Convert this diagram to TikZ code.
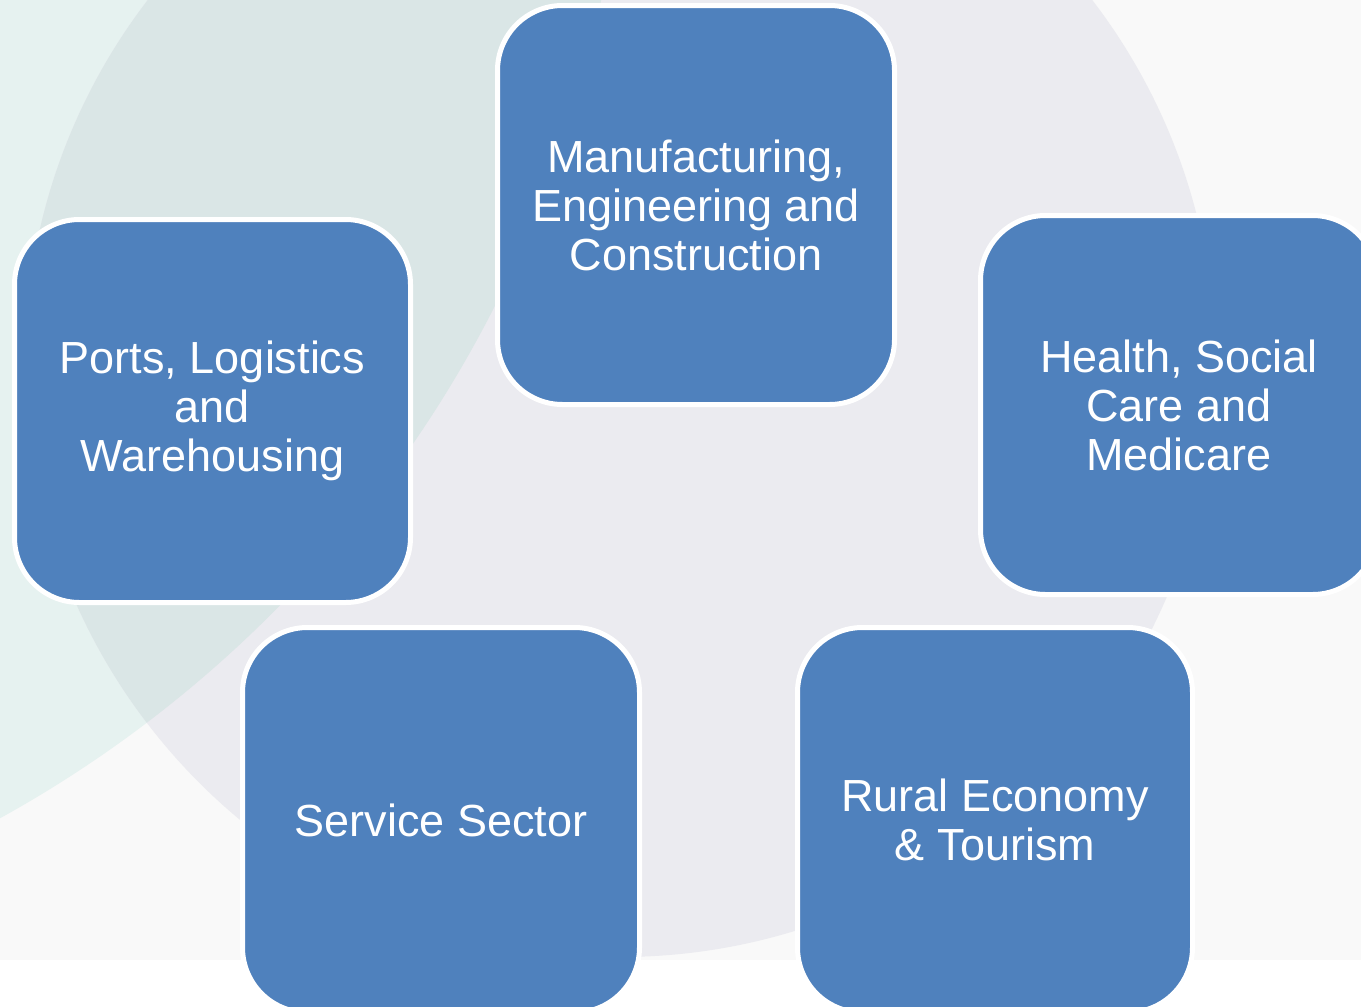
\documentclass[tikz,border=0pt]{standalone}
\usepackage{fontspec}
\setmainfont{Liberation Sans}
\definecolor{boxblue}{HTML}{4F81BD}
\definecolor{bglight}{HTML}{F9F9F9}
\definecolor{tealc}{HTML}{E6F2F0}
\definecolor{grayc}{HTML}{EBEBF0}
\definecolor{overlapc}{HTML}{DAE6E6}
\begin{document}
\begin{tikzpicture}[x=1pt,y=-1pt,
  sector/.style={rectangle, draw=white, line width=5pt, fill=boxblue,
    rounded corners=65pt, text=white, align=center, inner sep=0pt,
    font=\fontsize{45pt}{49pt}\selectfont}]
\clip (0,0) rectangle (1361,1007);
\fill[white] (0,0) rectangle (1361,1007);
\fill[bglight] (0,0) rectangle (1361,960);
\begin{scope}
  \clip (0,0) rectangle (1361,960);
  \fill[tealc] (-583,-240) circle[radius=1208pt];
  \fill[grayc] (620,362) circle[radius=595pt];
  \clip (-583,-240) circle[radius=1208pt];
  \fill[overlapc] (620,362) circle[radius=595pt];
\end{scope}
\node[sector, minimum width=397pt, minimum height=399pt] (mfg) at (696,205)
  {Manufacturing,\\Engineering and\\Construction};
\node[sector, minimum width=396pt, minimum height=383pt] (ports) at (212.5,411)
  {Ports, Logistics\\and\\Warehousing};
\node[sector, minimum width=397pt, minimum height=379pt] (health) at (1179,405)
  {Health, Social\\Care and\\Medicare};
\node[sector, minimum width=397pt, minimum height=385pt] (service) at (441,820)
  {Service Sector};
\node[sector, minimum width=395pt, minimum height=385pt] (rural) at (995,820)
  {Rural Economy\\\& Tourism};
\end{tikzpicture}
\end{document}
